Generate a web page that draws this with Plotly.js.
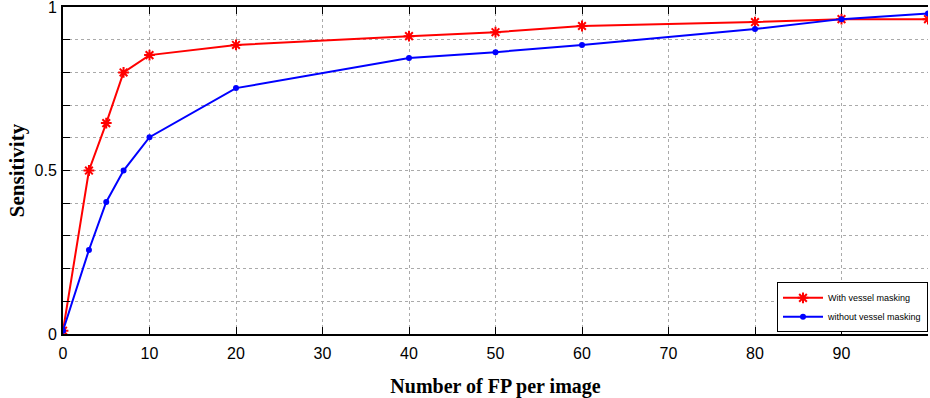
<!DOCTYPE html>
<html>
<head>
<meta charset="utf-8">
<script src="https://cdn.plot.ly/plotly-3.0.1.min.js"></script>
<style>html,body{margin:0;padding:0;background:#fff;}#chart{width:930px;height:398px;}</style>
</head>
<body>
<div id="chart"></div>
<script>
const fpPerImage = [0, 3, 5, 7, 10, 20, 40, 50, 60, 80, 90, 100];
const withMasking = [0.01, 0.50, 0.645, 0.80, 0.853, 0.884, 0.911, 0.923, 0.942, 0.954, 0.963, 0.963];
const withoutMasking = [0.01, 0.257, 0.404, 0.50, 0.602, 0.752, 0.844, 0.862, 0.884, 0.933, 0.963, 0.98];
const seriesNames = ["With vessel masking", "without vessel masking"];
const xTickVals = [0, 10, 20, 30, 40, 50, 60, 70, 80, 90];
const yTickVals = [0, 0.1, 0.2, 0.3, 0.4, 0.5, 0.6, 0.7, 0.8, 0.9, 1];
const yTickText = ["0", "", "", "", "", "0.5", "", "", "", "", "1"];

const traces = [
  {x: fpPerImage, y: withMasking, name: seriesNames[0], type: "scatter", mode: "lines+markers",
   line: {color: "#ff0000", width: 2}, marker: {symbol: "asterisk-open", size: 9, color: "#ff0000", line: {color: "#ff0000", width: 2}}},
  {x: fpPerImage, y: withoutMasking, name: seriesNames[1], type: "scatter", mode: "lines+markers",
   line: {color: "#0000ff", width: 2}, marker: {symbol: "circle", size: 6, color: "#0000ff"}}
];

const layout = {
  width: 930, height: 398,
  margin: {l: 63, r: 2, t: 7, b: 64},
  paper_bgcolor: "#fff", plot_bgcolor: "#fff",
  showlegend: true,
  legend: {x: 1, y: 0.005, xanchor: "right", yanchor: "bottom", bgcolor: "#fff",
    bordercolor: "#000", borderwidth: 1, font: {family: "Liberation Sans, Arial", size: 9, color: "#000"},
    tracegroupgap: 0, itemwidth: 40},
  xaxis: {range: [0, 100], tickvals: xTickVals, ticks: "inside", ticklen: 7, tickcolor: "#000",
    showline: true, linecolor: "#000", linewidth: 2, mirror: "ticks",
    showgrid: true, gridcolor: "#aaa", griddash: "dot", gridwidth: 1, zeroline: false,
    tickfont: {family: "Liberation Sans, Arial", size: 16, color: "#000"}, ticklabelstandoff: 4,
    title: {text: "Number of FP per image", font: {family: "Liberation Serif, Times New Roman", size: 20, color: "#000", weight: "bold"}, standoff: 18}},
  yaxis: {range: [0, 1.0001], tickvals: yTickVals, ticktext: yTickText, ticks: "inside", ticklen: 7, tickcolor: "#000",
    showline: true, linecolor: "#000", linewidth: 2, ticklabeloverflow: "allow",
    showgrid: true, gridcolor: "#aaa", griddash: "dot", gridwidth: 1, zeroline: false,
    tickfont: {family: "Liberation Sans, Arial", size: 16, color: "#000"}, ticklabelstandoff: 1,
    title: {text: "Sensitivity", font: {family: "Liberation Serif, Times New Roman", size: 21, color: "#000", weight: "bold"}, standoff: 4}}
};
Plotly.newPlot("chart", traces, layout, {displayModeBar: false, staticPlot: true});
</script>
</body>
</html>
